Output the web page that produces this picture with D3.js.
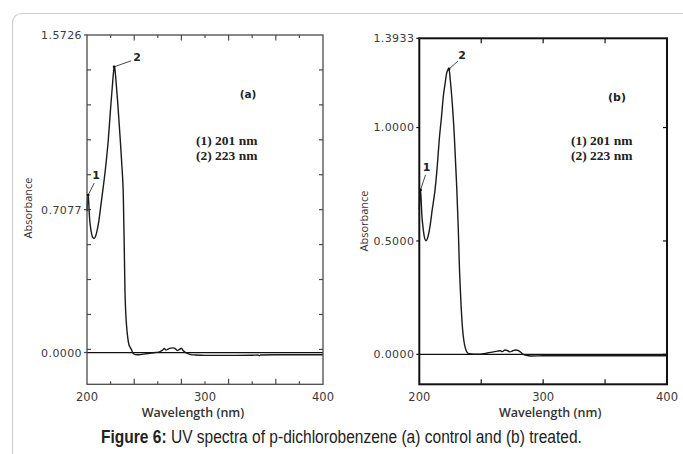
<!DOCTYPE html>
<html><head><meta charset="utf-8">
<script src="https://cdn.jsdelivr.net/npm/d3@7/dist/d3.min.js"></script>
<style>
html,body{margin:0;padding:0;background:#fff;}
svg{display:block;}
</style></head>
<body>
<svg id="chart" width="683" height="454"></svg>
<script>
// ---------- DATA ----------
const wavelengthA = [200,200.5,201,201.5,202,203,204,205,206,207,208,210,212,214,216,218,220,221.5,222.5,223,223.5,224.5,226,228,229.5,230.8,231.6,232.2,232.8,233.6,234.5,235.5,236.5,238,239,241,244,248,253,258,262,264,265.5,267,269,271,273,275,276.5,278,280,281.5,283,285,288,292,300,320,340,345,346,347,360,380,400];
const absorbanceA = [0.70,0.76,0.78,0.74,0.68,0.62,0.585,0.568,0.565,0.572,0.59,0.65,0.74,0.83,0.93,1.05,1.21,1.32,1.39,1.415,1.41,1.35,1.24,1.07,0.93,0.77,0.51,0.30,0.20,0.128,0.075,0.04,0.027,0.01,-0.004,-0.010,-0.011,-0.008,-0.004,0.0,0.005,0.012,0.020,0.012,0.018,0.022,0.023,0.018,0.010,0.014,0.021,0.010,0.002,-0.004,-0.010,-0.012,-0.014,-0.014,-0.013,-0.012,-0.016,-0.012,-0.011,-0.011,-0.011];

const wavelengthB = [200,200.5,201,201.5,202,203,204,205.4,206.5,208.6,210.5,212.7,214.5,216.1,217.8,219.4,221,222.1,224,225,226.2,228.3,230.2,231.5,232.3,233.4,235,236,236.9,238,239.6,244,249,255,259.8,263,265.2,267,269.2,271,273.2,275.5,278.1,280,281.3,283,285.3,288,290.8,300,327,360,400];
const absorbanceB = [0.64,0.70,0.725,0.68,0.62,0.56,0.52,0.501,0.51,0.563,0.64,0.725,0.83,0.946,1.04,1.137,1.20,1.24,1.258,1.21,1.137,0.96,0.74,0.549,0.40,0.254,0.107,0.06,0.034,0.015,0.004,0.001,0.001,0.006,0.011,0.014,0.016,0.012,0.019,0.017,0.011,0.016,0.019,0.016,0.012,0.004,-0.003,-0.006,-0.007,-0.006,-0.006,-0.006,-0.006];

const xDomain = [200, 400];
const xLabelTicks = [200, 300, 400];
const yDomainA = [-0.1572, 1.5726];
const yDomainB = [-0.132, 1.3933];
const yLabelTicksA = [0, 0.7077, 1.5726];
const yLabelTicksB = [0, 0.5, 1.0, 1.3933];
const xMinorTicksA = [220, 260, 300, 340, 380];
const xMajorTicksA = [240, 280, 320, 360];
const xTicksB = [250, 300, 350];
const yTicksB = [0, 0.5, 1.0];
const peakNmA = [201, 223];      // (1) 201 nm, (2) 223 nm
const peakNmB = [201, 224];
const peakTextLines = ["(1) 201 nm", "(2) 223 nm"];
const panelTags = ["(a)", "(b)"];
const captionBold = "Figure 6:";
const captionRest = " UV spectra of p-dichlorobenzene (a) control and (b) treated.";

// ---------- DRAW ----------
const svg = d3.select("#chart");
svg.append("rect").attr("x", 12.5).attr("y", 13.5).attr("width", 720).attr("height", 480)
  .attr("rx", 9).attr("fill", "#fff").attr("stroke", "#cfcfcf").attr("stroke-width", 1.2);

const fmt = d3.format(".4f");
const tickFont = "'DejaVu Sans', Verdana, sans-serif";
const labelFont = "'Open Sans', 'DejaVu Sans', sans-serif";

function panel(cfg) {
  const x = d3.scaleLinear().domain(xDomain).range([cfg.left, cfg.right]);
  const y = d3.scaleLinear().domain(cfg.yDomain).range([cfg.bottom, cfg.top]);
  const g = svg.append("g");

  // inner ticks
  const tickG = g.append("g").attr("stroke", cfg.frameColor).attr("stroke-width", 1.2);
  cfg.xTicks.forEach(t => {
    const len = t.len;
    tickG.append("line").attr("x1", x(t.v)).attr("x2", x(t.v)).attr("y1", cfg.bottom).attr("y2", cfg.bottom - len);
    tickG.append("line").attr("x1", x(t.v)).attr("x2", x(t.v)).attr("y1", cfg.top).attr("y2", cfg.top + len);
  });
  cfg.yTicksLeft.forEach(v => {
    tickG.append("line").attr("x1", cfg.left).attr("x2", cfg.left + 4).attr("y1", y(v)).attr("y2", y(v));
  });
  cfg.yTicksRight.forEach(v => {
    tickG.append("line").attr("x1", cfg.right).attr("x2", cfg.right - 4).attr("y1", y(v)).attr("y2", y(v));
  });
  cfg.yLabels.forEach(v => {
    tickG.append("line").attr("x1", cfg.left - 3).attr("x2", cfg.left).attr("y1", y(v)).attr("y2", y(v));
  });

  // zero line
  g.append("line").attr("x1", cfg.left).attr("x2", cfg.right).attr("y1", y(0)).attr("y2", y(0))
    .attr("stroke", "#111").attr("stroke-width", 1.3);

  // spectrum
  const line = d3.line().x((d, i) => x(cfg.wl[i])).y(d => y(d)).curve(d3.curveMonotoneX);
  g.append("path").attr("d", line(cfg.abs)).attr("fill", "none")
    .attr("stroke", "#1a1a1a").attr("stroke-width", 1.4).attr("stroke-linejoin", "round");

  // frame
  g.append("rect").attr("x", cfg.left).attr("y", cfg.top).attr("width", cfg.right - cfg.left)
    .attr("height", cfg.bottom - cfg.top).attr("fill", "none")
    .attr("stroke", cfg.frameColor).attr("stroke-width", cfg.frameWidth);

  // y labels
  g.selectAll(".yl").data(cfg.yLabels).enter().append("text")
    .attr("x", cfg.left - 5).attr("y", d => y(d)).attr("dy", "0.36em")
    .attr("text-anchor", "end").attr("font-family", tickFont).attr("font-size", 11)
    .attr("letter-spacing", 0.4).attr("fill", "#3a3a3a").text(d => fmt(d));

  // x labels
  g.selectAll(".xl").data(xLabelTicks).enter().append("text")
    .attr("x", d => x(d)).attr("y", 401)
    .attr("text-anchor", "middle").attr("font-family", tickFont).attr("font-size", 11.5)
    .attr("fill", "#3a3a3a").text(d => d);

  // axis titles
  g.append("text").attr("x", (cfg.left + cfg.right) / 2 + cfg.xTitleShift).attr("y", 417)
    .attr("text-anchor", "middle").attr("font-family", labelFont).attr("font-size", 12.5)
    .attr("font-weight", 600).attr("fill", "#333").text("Wavelength (nm)");
  g.append("text").attr("transform", `translate(${cfg.yTitleX},${cfg.yTitleY}) rotate(-90)`)
    .attr("text-anchor", "middle").attr("font-family", labelFont).attr("font-size", 11)
    .attr("fill", "#333").text("Absorbance");

  // panel tag
  g.append("text").attr("x", cfg.tagX).attr("y", cfg.tagY).attr("text-anchor", "middle")
    .attr("font-family", tickFont).attr("font-weight", "bold").attr("font-size", cfg.tagSize)
    .attr("fill", "#222").text(cfg.tag);

  // peak list
  g.selectAll(".pk").data(peakTextLines).enter().append("text")
    .attr("x", cfg.listX).attr("y", (d, i) => 145 + i * 14.5)
    .attr("font-family", "'Liberation Serif', 'Times New Roman', serif").attr("font-weight", "bold")
    .attr("font-size", 13.5).attr("fill", "#222").text(d => d);

  // peak markers
  cfg.peaks.forEach((nm, i) => {
    const idx = d3.bisectLeft(cfg.wl, nm);
    const px = x(cfg.wl[idx]), py = y(cfg.abs[idx]);
    const off = cfg.leaderOffsets[i];
    g.append("line").attr("x1", px).attr("y1", py).attr("x2", px + off[0]).attr("y2", py + off[1])
      .attr("stroke", "#333").attr("stroke-width", 0.9);
    g.append("circle").attr("cx", px).attr("cy", py).attr("r", 1.4).attr("fill", "#111");
    g.append("text").attr("x", px + off[0] + off[2]).attr("y", py + off[1] + off[3])
      .attr("text-anchor", "middle").attr("font-family", tickFont).attr("font-weight", "bold")
      .attr("font-size", 11).attr("fill", "#222").text(i + 1);
  });
}

const evenA = d3.range(11).map(k => yDomainA[0] + k * (yDomainA[1] - yDomainA[0]) / 10);

panel({
  left: 87, right: 323, top: 35, bottom: 384.3,
  yDomain: yDomainA, wl: wavelengthA, abs: absorbanceA,
  frameColor: "#4a4a4a", frameWidth: 1.3,
  xTicks: xMinorTicksA.map(v => ({v, len: 3})).concat(xMajorTicksA.map(v => ({v, len: 5.5}))),
  yTicksLeft: evenA.slice(1, 10), yTicksRight: evenA.slice(1, 10),
  yLabels: yLabelTicksA, xTitleShift: -12,
  yTitleX: 32, yTitleY: 208,
  tag: panelTags[0], tagX: 248, tagY: 98, tagSize: 10.5,
  listX: 196,
  peaks: peakNmA,
  leaderOffsets: [[6, -12, 2, -4], [17, -6, 6, 0]]
});

panel({
  left: 419.3, right: 667, top: 38.3, bottom: 384.3,
  yDomain: yDomainB, wl: wavelengthB, abs: absorbanceB,
  frameColor: "#111", frameWidth: 2,
  xTicks: xTicksB.map(v => ({v, len: 5})),
  yTicksLeft: [], yTicksRight: yTicksB,
  yLabels: yLabelTicksB, xTitleShift: 7,
  yTitleX: 368, yTitleY: 221,
  tag: panelTags[1], tagX: 617, tagY: 101, tagSize: 11,
  listX: 571,
  peaks: peakNmB,
  leaderOffsets: [[5, -15, 1, -4], [9, -8, 4, -2]]
});

// caption: draw naturally, then compress horizontally to the reference width
const capG = svg.append("g");
const cap = capG.append("text").attr("x", 0).attr("y", 0)
  .attr("font-family", "'Liberation Sans', Arial, sans-serif").attr("font-size", 18.5).attr("fill", "#222");
cap.append("tspan").attr("font-weight", "bold").text(captionBold);
cap.append("tspan").text(captionRest);
const natural = cap.node().getComputedTextLength();
const targetW = 481;
capG.attr("transform", `translate(${341.5 - targetW / 2},443) scale(${targetW / natural},1)`);
</script>
</body></html>
